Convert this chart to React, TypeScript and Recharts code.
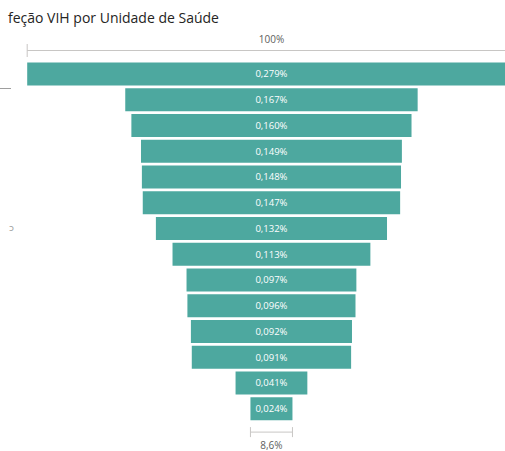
import React from 'react';
import { BarChart, Bar, XAxis, YAxis, LabelList } from 'recharts';

const units = [
  'Unidade 1', 'Unidade 2', 'Unidade 3', 'Unidade 4', 'Unidade 5', 'Unidade 6', 'Unidade 7',
  'Unidade 8', 'Unidade 9', 'Unidade 10', 'Unidade 11', 'Unidade 12', 'Unidade 13', 'Unidade 14',
];
const rates = [0.279, 0.167, 0.16, 0.149, 0.148, 0.147, 0.132, 0.113, 0.097, 0.096, 0.092, 0.091, 0.041, 0.024];
const titleText = 'feção VIH por Unidade de Saúde';
const topLabel = '100%';
const bottomLabel = '8,6%';

const maxRate = Math.max(...rates);
const data = units.map((u, i) => ({ name: u, offset: (maxRate - rates[i]) / 2, value: rates[i] }));

const W = 520;
const H = 451;
const PLOT_LEFT = 27.2;
const PLOT_W = 488.5;
const PLOT_TOP = 61.6;
const BAND = 25.75;
const PLOT_H = BAND * units.length;
const CENTER = PLOT_LEFT + PLOT_W / 2;
const FONT = '"Segoe UI", "Open Sans", "DejaVu Sans", sans-serif';

const fmt = (v: any) => Number(v).toFixed(3).replace('.', ',') + '%';

export default function App() {
  const lastW = (rates[rates.length - 1] / maxRate) * PLOT_W;
  const bx0 = CENTER - lastW / 2;
  const bx1 = CENTER + lastW / 2;
  const by = PLOT_TOP + PLOT_H + 10;
  return (
    <div style={{ position: 'absolute', left: 0, top: 0, width: 505, height: 451, overflow: 'hidden', background: '#fff' }}>
      <div style={{ position: 'absolute', left: 0, top: 0 }}>
        <BarChart
          width={W}
          height={H}
          data={data}
          layout="vertical"
          margin={{ left: PLOT_LEFT, right: W - PLOT_LEFT - PLOT_W, top: PLOT_TOP, bottom: H - PLOT_TOP - PLOT_H }}
          barSize={23}
        >
          <XAxis type="number" hide domain={[0, maxRate]} />
          <YAxis type="category" dataKey="name" hide />
          <Bar dataKey="offset" stackId="a" fill="transparent" isAnimationActive={false} />
          <Bar dataKey="value" stackId="a" fill="#4DA89F" isAnimationActive={false}>
            <LabelList dataKey="value" position="center" formatter={fmt} fill="#ffffff" fontSize={9.5} fontFamily={FONT} />
          </Bar>
        </BarChart>
      </div>
      <svg width={505} height={451} style={{ position: 'absolute', left: 0, top: 0, pointerEvents: 'none' }}>
        <text x={8} y={23} fontSize={14} fontFamily={FONT} fill="#252423">{titleText}</text>
        <text x={CENTER} y={43} fontSize={10} fontFamily={FONT} fill="#605E5C" textAnchor="middle">{topLabel}</text>
        <line x1={PLOT_LEFT} x2={505} y1={50.5} y2={50.5} stroke="#C8C6C4" strokeWidth={1} />
        <line x1={PLOT_LEFT} x2={PLOT_LEFT} y1={44} y2={57} stroke="#C8C6C4" strokeWidth={1} />
        <line x1={bx0} x2={bx1} y1={by} y2={by} stroke="#C8C6C4" strokeWidth={1} />
        <line x1={bx0} x2={bx0} y1={by - 5} y2={by + 5} stroke="#C8C6C4" strokeWidth={1} />
        <line x1={bx1} x2={bx1} y1={by - 5} y2={by + 5} stroke="#C8C6C4" strokeWidth={1} />
        <text x={CENTER} y={449} fontSize={10} fontFamily={FONT} fill="#605E5C" textAnchor="middle">{bottomLabel}</text>
        <line x1={0} x2={11} y1={88.5} y2={88.5} stroke="#9E9E9E" strokeWidth={1} />
        <text x={9} y={231} fontSize={9} fontFamily={FONT} fill="#A0A0A0">ɔ</text>
      </svg>
    </div>
  );
}
